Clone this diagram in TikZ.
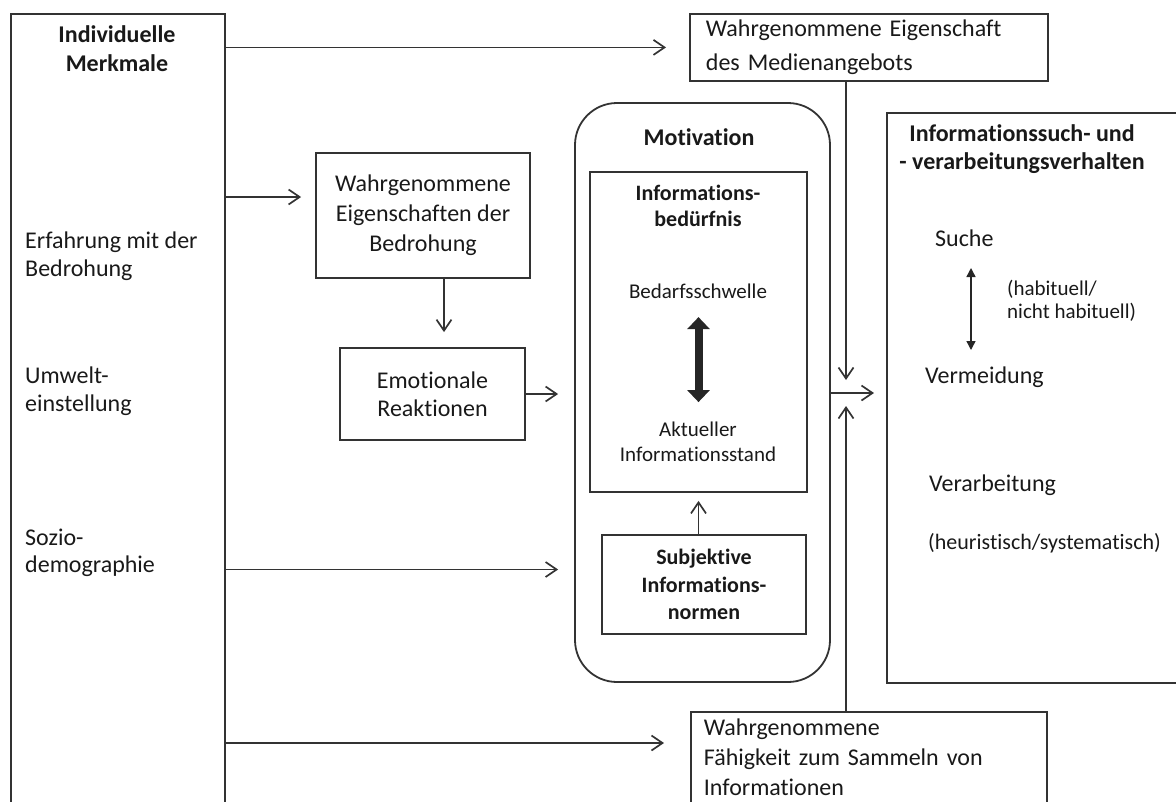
\documentclass[tikz,border=0pt]{standalone}
\usepackage{fontspec}
\setmainfont{Carlito}[Ligatures={NoCommon}]
\usetikzlibrary{arrows.meta,calc}
\begin{document}
\begin{tikzpicture}[x=1pt,y=-1pt,
  every node/.style={text=black!90},
  box/.style={draw=black!80, line width=1.8pt, inner sep=0pt},
  arr/.style={draw=black!80, line width=1.7pt, -{Straight Barb[length=11pt,width=15pt]}},
  t24/.style={font=\fontsize{24}{29}\selectfont, inner sep=0pt},
  b24/.style={font=\bfseries\fontsize{24}{29}\selectfont, inner sep=0pt},
  t21/.style={font=\fontsize{21}{25}\selectfont, inner sep=0pt},
  b22/.style={font=\bfseries\fontsize{22}{26}\selectfont, inner sep=0pt}]
\useasboundingbox (0,0) rectangle (1176,801);
\clip (0,0) rectangle (1176,801);

% left box
\node[box, minimum width=214pt, minimum height=820pt, anchor=north west] (left) at (10,13) {};
\node[b24, align=center] (indiv) at (117,49) {Individuelle\\Merkmale};
\node[t24, align=left, anchor=west, font=\fontsize{24}{28}\selectfont] (erf) at (25,256) {Erfahrung mit der\\Bedrohung};
\node[t24, align=left, anchor=west, font=\fontsize{24}{28}\selectfont] (umw) at (25,391) {Umwelt-\\einstellung};
\node[t24, align=left, anchor=west, font=\fontsize{24}{27}\selectfont] (soz) at (25,553) {Sozio-\\demographie};

% threat boxes
\node[box, t24, minimum width=214pt, minimum height=125pt, align=center, font=\fontsize{24}{30}\selectfont] (bed) at (423,215.5) {Wahrgenommene\\Eigenschaften der\\Bedrohung};
\node[box, t24, minimum width=185pt, minimum height=92pt, align=center, font=\fontsize{24}{28}\selectfont] (emo) at (432.5,394) {Emotionale\\Reaktionen};

% media box
\node[box, t24, anchor=north west, minimum width=358pt, minimum height=67pt, text width=326pt, inner xsep=16pt, align=left, font=\fontsize{24}{34}\selectfont] (med) at (689,13) {Wahrgenommene Eigenschaft\\des Medienangebots};

% ability box
\node[box, t24, anchor=north west, minimum width=356pt, text width=330pt, inner xsep=13pt, inner ysep=7pt, align=left, font=\fontsize{24}{30}\selectfont] (fab) at (690,711) {Wahrgenommene\\Fähigkeit zum Sammeln von\\Informationen\\ \strut};

% motivation
\node[draw=black!80, line width=1.8pt, rounded corners=42pt, minimum width=255pt, minimum height=579pt, inner sep=0pt] (mot) at (702.5,392.5) {};
\node[b24] (motT) at (699,137) {Motivation};
\node[box, minimum width=217pt, minimum height=320pt] (inn) at (698.5,332) {};
\node[b22, align=center] (ib) at (698,206) {Informations-\\bedürfnis};
\node[t21] (bs) at (698,291) {Bedarfsschwelle};
\node[t21, align=center] (akt) at (698,442) {Aktueller\\Informationsstand};
\node[box, b22, minimum width=204pt, minimum height=99pt, align=center, font=\bfseries\fontsize{22}{27.5}\selectfont] (subj) at (704,584.5) {Subjektive\\Informations-\\normen};

% right box
\node[box, anchor=north west, minimum width=330pt, minimum height=570pt] (rb) at (886,112) {};
\node[b24, align=center, font=\bfseries\fontsize{24}{28}\selectfont] (rbT) at (1022,149) {Informationssuch- und\\- verarbeitungsverhalten};
\node[t24, anchor=west] (suche) at (935,238) {Suche};
\node[t21, anchor=west, align=left, font=\fontsize{21}{23}\selectfont] (hab) at (1007,301) {(habituell/\\nicht habituell)};
\node[t24, anchor=west] (verm) at (925,377) {Vermeidung};
\node[t24, anchor=west] (verarb) at (929,485) {Verarbeitung};
\node[t21, anchor=west, font=\fontsize{22}{26}\selectfont] (heur) at (928,543) {(heuristisch/systematisch)};

% inner arrows
\draw[draw=black!85, line width=8pt, {Triangle[width=22pt,length=12pt]}-{Triangle[width=22pt,length=12pt]}] ($(inn.north)+(0,146)$) -- ($(inn.north)+(0,231)$);
\draw[draw=black!85, line width=1.4pt, {Triangle[width=9pt,length=9pt]}-{Triangle[width=9pt,length=9pt]}] ($(suche.west)+(36,30)$) -- ($(suche.west)+(36,112)$);

% connectors
\coordinate (junc) at (846,393);
\coordinate (m5) at ($(mot.west)+(0,177)$);
\coordinate (f10) at ($(fab.north west)+(0,32)$);
\coordinate (b2) at ($(bed.west)+(0,-18.5)$);
\draw[arr, shorten >=23pt] (left.east |- med.west) -- (med.west);
\draw[arr, shorten >=14pt] (left.east |- b2) -- (b2);
\draw[arr, shorten >=15pt] (bed.south -| 444,0) -- (emo.north -| 444,0);
\draw[arr, shorten >=16pt] (emo.east) -- (emo.east -| mot.west);
\draw[arr, shorten >=16pt] (left.east |- m5) -- (m5);
\draw[arr, shorten >=8pt] (inn.south |- subj.north) -- (inn.south);
\draw[arr, shorten >=13pt] (med.south -| junc) -- (junc);
\draw[arr, shorten >=13pt] (fab.north -| junc) -- (junc);
\draw[arr, shorten >=12pt] (mot.east |- junc) -- (rb.west |- junc);
\draw[arr, shorten >=26pt] (left.east |- f10) -- (f10);
\end{tikzpicture}
\end{document}
